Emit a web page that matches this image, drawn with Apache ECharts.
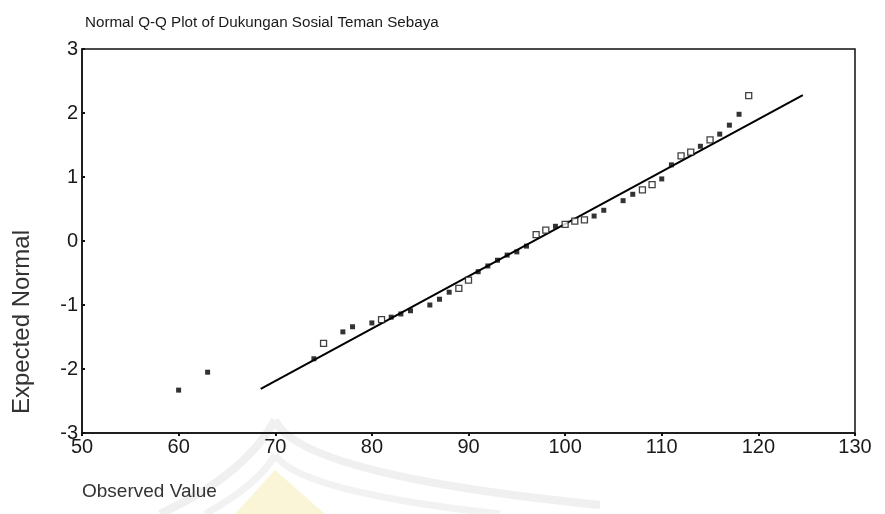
<!DOCTYPE html>
<html>
<head>
<meta charset="utf-8">
<script src="https://cdn.jsdelivr.net/npm/echarts@6/dist/echarts.min.js"></script>
<style>
  html, body { margin: 0; padding: 0; background: #fff; }
  #chart { width: 885px; height: 514px; }
</style>
</head>
<body>
<div id="chart"></div>
<script>
// observed values and their expected normal scores
const observed = [60, 63, 74, 75, 77, 78, 80, 81, 82, 83, 84, 86, 87, 88, 89, 90,
  91, 92, 93, 94, 95, 96, 97, 98, 99, 100, 101, 102, 103, 104, 106, 107, 108, 109,
  110, 111, 112, 113, 114, 115, 116, 117, 118, 119];
const expected = [-2.33, -2.05, -1.84, -1.6, -1.42, -1.34, -1.28, -1.23, -1.19, -1.14,
  -1.09, -1.0, -0.91, -0.8, -0.74, -0.61, -0.48, -0.39, -0.3, -0.22, -0.17, -0.08,
  0.1, 0.17, 0.23, 0.26, 0.31, 0.33, 0.39, 0.48, 0.63, 0.73, 0.8, 0.88, 0.97, 1.19,
  1.33, 1.39, 1.48, 1.58, 1.67, 1.81, 1.98, 2.27];
// points that look hollow in the scan
const hollow = [75, 81, 89, 90, 97, 98, 100, 101, 102, 108, 109, 112, 113, 115, 119];
// reference line
const lineX = [68.5, 124.6];
const lineY = [-2.31, 2.28];

const FONT = "'Liberation Sans', Arial, sans-serif";

const chart = echarts.init(document.getElementById('chart'));

const points = observed.map((v, i) => {
  const item = { value: [v, expected[i]] };
  if (hollow.includes(v)) {
    item.itemStyle = { color: '#fff', borderColor: '#111', borderWidth: 1.3 };
    item.symbolSize = 6;
  }
  return item;
});

// faint watermark strokes (scan artefact under the x axis)
function wmCurve(x1, y1, cx, cy, x2, y2, color, w) {
  return {
    type: 'bezierCurve', z: -10, silent: true,
    shape: { x1: x1, y1: y1, cpx1: cx, cpy1: cy, x2: x2, y2: y2 },
    style: { fill: null, stroke: color, lineWidth: w }
  };
}

const option = {
  backgroundColor: '#fff',
  animation: false,
  title: {
    text: 'Normal Q-Q Plot of Dukungan Sosial Teman Sebaya',
    left: 80,
    top: 10,
    textStyle: { fontFamily: FONT, fontSize: 15.2, fontWeight: 'normal', color: '#1a1a1a' }
  },
  grid: {
    left: 82, right: 30, top: 49, bottom: 81,
    show: true, borderColor: '#111', borderWidth: 1.5, backgroundColor: 'transparent'
  },
  xAxis: {
    type: 'value', min: 50, max: 130, interval: 10,
    splitLine: { show: false },
    axisLine: { show: true, onZero: false, lineStyle: { color: '#111', width: 1.5 } },
    axisTick: { show: true, length: 3, lineStyle: { color: '#111', width: 2 } },
    axisLabel: { margin: 4, fontFamily: FONT, fontSize: 20, color: '#1a1a1a' }
  },
  yAxis: {
    type: 'value', min: -3, max: 3, interval: 1,
    splitLine: { show: false },
    axisLine: { show: true, onZero: false, lineStyle: { color: '#111', width: 1.5 } },
    axisTick: { show: true, inside: true, length: 3, lineStyle: { color: '#111', width: 2 } },
    axisLabel: { margin: 4, fontFamily: FONT, fontSize: 20, color: '#1a1a1a' }
  },
  graphic: [
    {
      type: 'polygon', z: -11, silent: true,
      shape: { points: [[235, 514], [275, 470], [325, 514]] },
      style: { fill: '#fbf5d8' }
    },
    wmCurve(160, 514, 245, 475, 275, 420, '#f0f0f0', 8),
    wmCurve(275, 420, 300, 475, 600, 505, '#f0f0f0', 8),
    wmCurve(205, 514, 258, 485, 275, 455, '#f2f2f2', 7),
    wmCurve(275, 455, 300, 492, 500, 514, '#f2f2f2', 7),
    {
      type: 'text', left: 10, top: 230, rotation: Math.PI / 2,
      style: { text: 'Expected Normal', fontFamily: FONT, fontSize: 24, fill: '#333' }
    },
    {
      type: 'text', left: 82, top: 482,
      style: { text: 'Observed Value', fontFamily: FONT, fontSize: 19, fill: '#333' }
    }
  ],
  series: [
    {
      type: 'line',
      data: lineX.map((x, i) => [x, lineY[i]]),
      symbol: 'none',
      lineStyle: { color: '#000', width: 2 },
      z: 2
    },
    {
      type: 'scatter',
      data: points,
      symbol: 'rect',
      symbolSize: 5,
      itemStyle: { color: '#000' },
      z: 3
    }
  ]
};

chart.setOption(option);
</script>
</body>
</html>
